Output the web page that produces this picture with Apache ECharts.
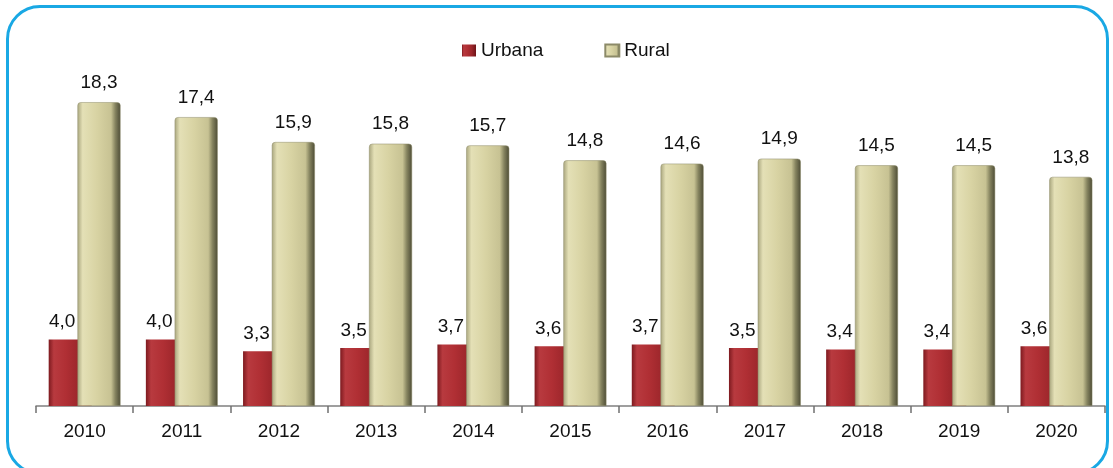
<!DOCTYPE html>
<html>
<head>
<meta charset="utf-8">
<script src="https://cdn.jsdelivr.net/npm/echarts@6/dist/echarts.min.js"></script>
<style>
  html, body { margin: 0; padding: 0; background: #fff; }
  #frame {
    position: absolute; left: 6px; top: 5px; width: 1103px; height: 470px;
    border: 3px solid #19a8e4; border-radius: 34px; box-sizing: border-box;
  }
  #chart { position: absolute; left: 0; top: 0; width: 1113px; height: 468px; }
</style>
</head>
<body>
<div id="frame"></div>
<div id="chart"></div>
<script>
  // anos e percentuais
  var years = ['2010', '2011', '2012', '2013', '2014', '2015', '2016', '2017', '2018', '2019', '2020'];
  var urbana = [4.0, 4.0, 3.3, 3.5, 3.7, 3.6, 3.7, 3.5, 3.4, 3.4, 3.6];
  var rural = [18.3, 17.4, 15.9, 15.8, 15.7, 14.8, 14.6, 14.9, 14.5, 14.5, 13.8];

  var FONT = '"Liberation Sans", Arial, sans-serif';
  var myChart = echarts.init(document.getElementById('chart'));

  function fmt(p) {
    return p.value.toFixed(1).replace('.', ',');
  }

  var option = {
    animation: false,
    legend: {
      top: 36,
      left: 457,
      itemWidth: 14,
      itemHeight: 12,
      itemGap: 61,
      icon: 'rect',
      textStyle: { fontFamily: FONT, fontSize: 19, color: '#111' },
      data: ['Urbana', 'Rural']
    },
    grid: { left: 36, right: 8, top: 74, bottom: 62 },
    xAxis: {
      type: 'category',
      data: years,
      axisLine: { show: true, lineStyle: { color: '#808080', width: 1.5 } },
      axisTick: { show: true, alignWithLabel: false, interval: 0, length: 7, lineStyle: { color: '#707070', width: 1.5 } },
      axisLabel: { fontFamily: FONT, fontSize: 19, color: '#111', margin: 16 }
    },
    yAxis: {
      type: 'value', min: 0, max: 20,
      show: false
    },
    series: [
      {
        name: 'Urbana',
        type: 'bar',
        data: urbana,
        barWidth: 43,
        barGap: '-33%',
        itemStyle: {
          color: new echarts.graphic.LinearGradient(0, 0, 1, 0, [
            { offset: 0, color: '#7d1a1f' },
            { offset: 0.12, color: '#b83a3f' },
            { offset: 0.4, color: '#b02f34' },
            { offset: 0.7, color: '#9c262b' },
            { offset: 1, color: '#6e1418' }
          ])
        },
        label: {
          show: true, position: 'top', distance: 8, offset: [-8, 0],
          formatter: fmt,
          fontFamily: FONT, fontSize: 19, color: '#111'
        }
      },
      {
        name: 'Rural',
        type: 'bar',
        data: rural,
        barWidth: 43,
        itemStyle: {
          color: new echarts.graphic.LinearGradient(0, 0, 1, 0, [
            { offset: 0, color: '#a9a67e' },
            { offset: 0.12, color: '#e4e0b6' },
            { offset: 0.45, color: '#d8d3a3' },
            { offset: 0.78, color: '#c7c293' },
            { offset: 0.88, color: '#85835f' },
            { offset: 1, color: '#4c4b35' }
          ]),
          borderColor: '#8c8a68',
          borderWidth: 0.5,
          borderRadius: [3, 3, 0, 0]
        },
        label: {
          show: true, position: 'top', distance: 10,
          formatter: fmt,
          fontFamily: FONT, fontSize: 19, color: '#111'
        }
      }
    ]
  };

  option && myChart.setOption(option);
  window.addEventListener('resize', function () {
    myChart.resize();
  });
</script>
</body>
</html>
